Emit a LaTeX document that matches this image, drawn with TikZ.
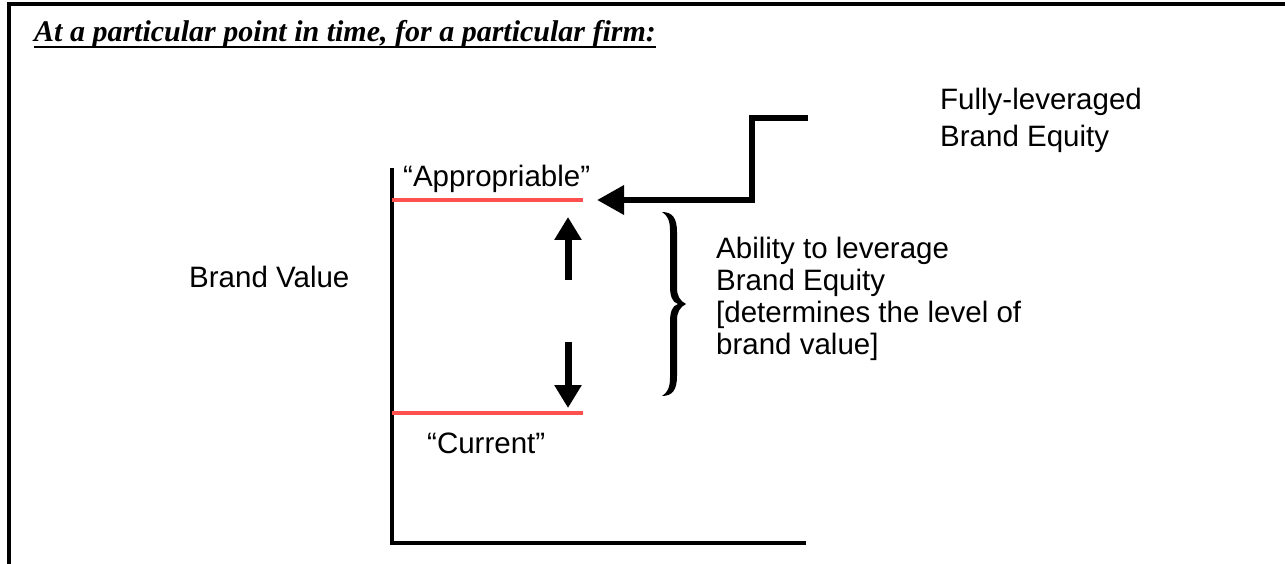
\documentclass[tikz,border=0pt]{standalone}
\usepackage{fontspec}
\setmainfont{Liberation Serif}
\newfontfamily\arial{Liberation Sans}
\usetikzlibrary{arrows.meta}
\definecolor{levelred}{HTML}{FF5050}
\tikzset{
  label/.style={font=\arial\fontsize{29.5}{32}\selectfont, inner sep=0pt, align=left},
  frameline/.style={line width=4pt},
  axisline/.style={line width=4.5pt},
  levelline/.style={levelred, line width=4.5pt},
  bigarrow/.style={line width=7pt, -{Triangle[width=26pt,length=23pt]}},
  elbowarrow/.style={line width=6.5pt, -{Triangle[width=28pt,length=27pt]}},
}
\begin{document}
\begin{tikzpicture}[x=1pt,y=-1pt]
\useasboundingbox (0,0) rectangle (1285,564);
% open frame: top and left edges only
\draw[frameline] (9,564) -- (9,4) -- (1285,4);
% heading with a heavy underline
\node[anchor=base west, inner sep=0pt, font=\bfseries\itshape\fontsize{30}{34}\selectfont] (title) at (34,42) {At a particular point in time, for a particular firm:};
\draw[line width=2.5pt] ([yshift=-5pt]title.base west) -- ([yshift=-5pt]title.base east);
% axes
\coordinate (ytop) at (392,168);
\coordinate (origin) at (392,543);
\coordinate (xend) at (806,543);
\draw[axisline] (ytop) -- (origin) -- (xend);
% value levels
\coordinate (apL) at (392,200);
\coordinate (apR) at (583,200);
\coordinate (cuL) at (392,413);
\coordinate (cuR) at (583,413);
\draw[levelline] (apL) -- (apR);
\draw[levelline] (cuL) -- (cuR);
% labels
\node[label, anchor=west] (appr) at (403,179) {“Appropriable”};
\node[label, anchor=west] (curr) at (427,443) {“Current”};
\node[label, anchor=west] (bval) at (189,277) {Brand Value};
\node[label, anchor=west] (full) at (940,120) {Fully-leveraged\\[5pt]Brand Equity};
\node[label, anchor=west] (abil) at (716,299) {Ability to leverage\\Brand Equity\\{[determines the level of}\\brand value]};
% up and down arrows between levels
\coordinate (upT) at (568,280);
\coordinate (upH) at (568,217);
\coordinate (dnT) at (568,342);
\coordinate (dnH) at (568,408);
\draw[bigarrow] (upT) -- (upH);
\draw[bigarrow] (dnT) -- (dnH);
% elbow arrow from fully-leveraged equity
\coordinate (elS) at (808,118);
\coordinate (elC) at (752,118);
\coordinate (elD) at (752,200);
\coordinate (elH) at (597,200);
\draw[elbowarrow] (elS) -- (elC) -- (elD) -- (elH);
% bold closing brace, drawn as a filled outline
\fill (662,212) .. controls (673,212) and (677,219) .. (677,232)
  -- (677,288) .. controls (677,296) and (680,301) .. (686,304)
  .. controls (680,307) and (677,312) .. (677,320)
  -- (677,376) .. controls (677,389) and (673,396) .. (662,396)
  .. controls (667,393) and (670,388) .. (670,378)
  -- (670,322) .. controls (670,312) and (672,306) .. (678,304)
  .. controls (672,302) and (670,296) .. (670,286)
  -- (670,230) .. controls (670,220) and (667,215) .. (662,212) -- cycle;
\end{tikzpicture}
\end{document}
